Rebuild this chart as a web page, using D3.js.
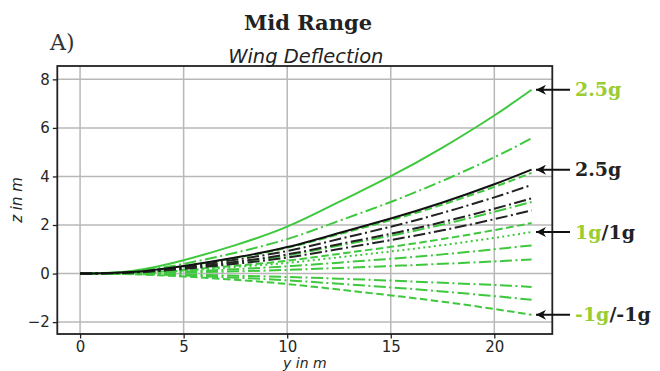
<!DOCTYPE html>
<html>
<head>
<meta charset="utf-8">
<script src="https://cdn.jsdelivr.net/npm/d3@7"></script>
<style>
  body { margin: 0; background: #fff; }
  .tick text { font-family: "DejaVu Sans", sans-serif; font-size: 15px; fill: #262626; }
  .grid line { stroke: #b8b8b8; stroke-width: 1.5; }
</style>
</head>
<body>
<div id="chart"></div>
<script>
var width = 660;
var height = 371;

// span stations (m)
var span = [0, 2.5, 5, 7.5, 10, 12.5, 15, 17.5, 20, 21.8];

// deflection z (m) at each station
var green25 = [0, 0.11, 0.55, 1.17, 1.93, 2.95, 4.01, 5.19, 6.51, 7.57];
var greenA = [0, 0.08, 0.40, 0.86, 1.42, 2.17, 2.95, 3.82, 4.79, 5.57];
var greenB = [0, 0.06, 0.30, 0.64, 1.06, 1.62, 2.20, 2.84, 3.57, 4.15];
var greenC = [0, 0.04, 0.21, 0.46, 0.75, 1.15, 1.56, 2.02, 2.54, 2.95];
var greenD = [0, 0.03, 0.15, 0.32, 0.53, 0.81, 1.10, 1.42, 1.79, 2.08];
var green1 = [0, 0.03, 0.12, 0.27, 0.44, 0.67, 0.91, 1.17, 1.47, 1.71];
var greenE = [0, 0.02, 0.08, 0.18, 0.30, 0.45, 0.61, 0.79, 1.00, 1.16];
var greenF = [0, 0.01, 0.04, 0.09, 0.15, 0.23, 0.31, 0.40, 0.50, 0.58];
var greenG = [0, -0.01, -0.04, -0.09, -0.14, -0.21, -0.29, -0.38, -0.47, -0.55];
var greenH = [0, -0.02, -0.08, -0.17, -0.28, -0.42, -0.57, -0.74, -0.93, -1.08];
var greenM1 = [0, -0.03, -0.12, -0.26, -0.43, -0.66, -0.90, -1.16, -1.46, -1.70];
var black25 = [0, 0.06, 0.31, 0.66, 1.09, 1.67, 2.27, 2.93, 3.68, 4.28];
var blackA = [0, 0.05, 0.26, 0.57, 0.93, 1.42, 1.93, 2.50, 3.14, 3.65];
var blackB = [0, 0.05, 0.22, 0.48, 0.79, 1.21, 1.64, 2.12, 2.67, 3.10];
var blackC = [0, 0.04, 0.19, 0.40, 0.66, 1.01, 1.38, 1.78, 2.24, 2.60];

var xTicks = [0, 5, 10, 15, 20];
var yTicks = [-2, 0, 2, 4, 6, 8];

var GREEN = "#3ec83e";
var LABEL_GREEN = "#9acd32";
var dashDot = "12,3.5,2,3.5";
var dashed = "7.5,3.5";
var dotted = "2,3.3";

var series = [
  { z: greenM1, color: GREEN, dash: dashed },
  { z: greenH, color: GREEN, dash: dashDot },
  { z: greenG, color: GREEN, dash: dashDot },
  { z: greenF, color: GREEN, dash: dashDot },
  { z: greenE, color: GREEN, dash: dashDot },
  { z: green1, color: GREEN, dash: dotted },
  { z: greenD, color: GREEN, dash: dashed },
  { z: greenC, color: GREEN, dash: dashDot },
  { z: greenB, color: GREEN, dash: dashed },
  { z: greenA, color: GREEN, dash: dashDot },
  { z: green25, color: GREEN, dash: null },
  { z: blackC, color: "#222", dash: dashDot },
  { z: blackB, color: "#222", dash: dashDot },
  { z: blackA, color: "#222", dash: dashDot },
  { z: black25, color: "#111", dash: null }
];

var margin = { left: 57.3, right: 660 - 552.3, top: 66, bottom: 371 - 334 };
var plotW = width - margin.left - margin.right;
var plotH = height - margin.top - margin.bottom;

var svg = d3.select("#chart").append("svg")
  .attr("width", width)
  .attr("height", height);

var x = d3.scaleLinear().domain([-1.1, 22.8]).range([margin.left, margin.left + plotW]);
var y = d3.scaleLinear().domain([-2.49, 8.55]).range([margin.top + plotH, margin.top]);

// grid
svg.append("g").attr("class", "grid")
  .selectAll("line.v").data(xTicks).enter().append("line")
  .attr("x1", d => x(d)).attr("x2", d => x(d))
  .attr("y1", margin.top).attr("y2", margin.top + plotH);
svg.append("g").attr("class", "grid")
  .selectAll("line.h").data(yTicks).enter().append("line")
  .attr("y1", d => y(d)).attr("y2", d => y(d))
  .attr("x1", margin.left).attr("x2", margin.left + plotW);

// curves
var line = d3.line()
  .x((d, i) => x(span[i]))
  .y(d => y(d))
  .curve(d3.curveNatural);

svg.append("g").selectAll("path").data(series).enter().append("path")
  .attr("d", d => line(d.z))
  .attr("fill", "none")
  .attr("stroke", d => d.color)
  .attr("stroke-width", 2)
  .attr("stroke-dasharray", d => d.dash);

// axes
svg.append("g")
  .attr("transform", "translate(0," + (margin.top + plotH) + ")")
  .call(d3.axisBottom(x).tickValues(xTicks).tickSize(4.5).tickPadding(2.5).tickFormat(d3.format("d")))
  .call(g => g.select(".domain").remove())
  .call(g => g.selectAll(".tick line").attr("stroke", "#222").attr("stroke-width", 1.3));

svg.append("g")
  .attr("transform", "translate(" + margin.left + ",0)")
  .call(d3.axisLeft(y).tickValues(yTicks).tickSize(4.5).tickPadding(3)
    .tickFormat(d => d < 0 ? "\u2212" + Math.abs(d) : d))
  .call(g => g.select(".domain").remove())
  .call(g => g.selectAll(".tick line").attr("stroke", "#222").attr("stroke-width", 1.3));

// frame
svg.append("rect")
  .attr("x", margin.left).attr("y", margin.top)
  .attr("width", plotW).attr("height", plotH)
  .attr("fill", "none").attr("stroke", "#222").attr("stroke-width", 1.8);

// titles
svg.append("text")
  .attr("x", 308).attr("y", 30)
  .attr("text-anchor", "middle")
  .style("font-family", "'DejaVu Serif', serif").style("font-weight", "bold").style("font-size", "21px")
  .attr("fill", "#222")
  .text("Mid Range");

svg.append("text")
  .attr("x", 50).attr("y", 50)
  .style("font-family", "'DejaVu Serif', serif").style("font-size", "22px")
  .attr("fill", "#333")
  .text("A)");

svg.append("text")
  .attr("x", (margin.left + margin.left + plotW) / 2 + 1).attr("y", 63)
  .attr("text-anchor", "middle")
  .style("font-family", "'DejaVu Sans', sans-serif").style("font-style", "italic").style("font-size", "19.5px")
  .attr("fill", "#222")
  .text("Wing Deflection");

svg.append("text")
  .attr("x", (margin.left + margin.left + plotW) / 2).attr("y", 367.5)
  .attr("text-anchor", "middle")
  .style("font-family", "'DejaVu Sans', sans-serif").style("font-style", "italic").style("font-size", "14px")
  .attr("fill", "#262626")
  .text("y in m");

svg.append("text")
  .attr("transform", "translate(22," + (margin.top + plotH / 2) + ") rotate(-90)")
  .attr("text-anchor", "middle")
  .style("font-family", "'DejaVu Sans', sans-serif").style("font-style", "italic").style("font-size", "15px")
  .attr("fill", "#262626")
  .text("z in m");

// annotations on the right
var annotations = [
  { z: 7.57, parts: [["2.5g", LABEL_GREEN]] },
  { z: 4.28, parts: [["2.5g", "#222"]] },
  { z: 1.71, parts: [["1g", LABEL_GREEN], ["/1g", "#222"]] },
  { z: -1.70, parts: [["-1g", LABEL_GREEN], ["/-1g", "#222"]] }
];

svg.append("defs").append("marker")
  .attr("id", "head")
  .attr("viewBox", "0 0 10 10")
  .attr("refX", 10).attr("refY", 5)
  .attr("markerWidth", 5).attr("markerHeight", 5)
  .attr("markerUnits", "strokeWidth")
  .attr("orient", "auto")
  .append("path").attr("d", "M0,0L10,5L0,10L3,5Z").attr("fill", "#111");

var ann = svg.append("g").selectAll("g").data(annotations).enter().append("g");

ann.append("line")
  .attr("x1", 570).attr("x2", 536)
  .attr("y1", d => y(d.z)).attr("y2", d => y(d.z))
  .attr("stroke", "#111").attr("stroke-width", 2)
  .attr("marker-end", "url(#head)");

ann.append("text")
  .attr("x", 575).attr("y", d => y(d.z) + 6.5)
  .style("font-family", "'DejaVu Serif', serif").style("font-weight", "bold").style("font-size", "19px")
  .selectAll("tspan").data(d => d.parts).enter().append("tspan")
  .attr("fill", d => d[1])
  .text(d => d[0]);
</script>
</body>
</html>
